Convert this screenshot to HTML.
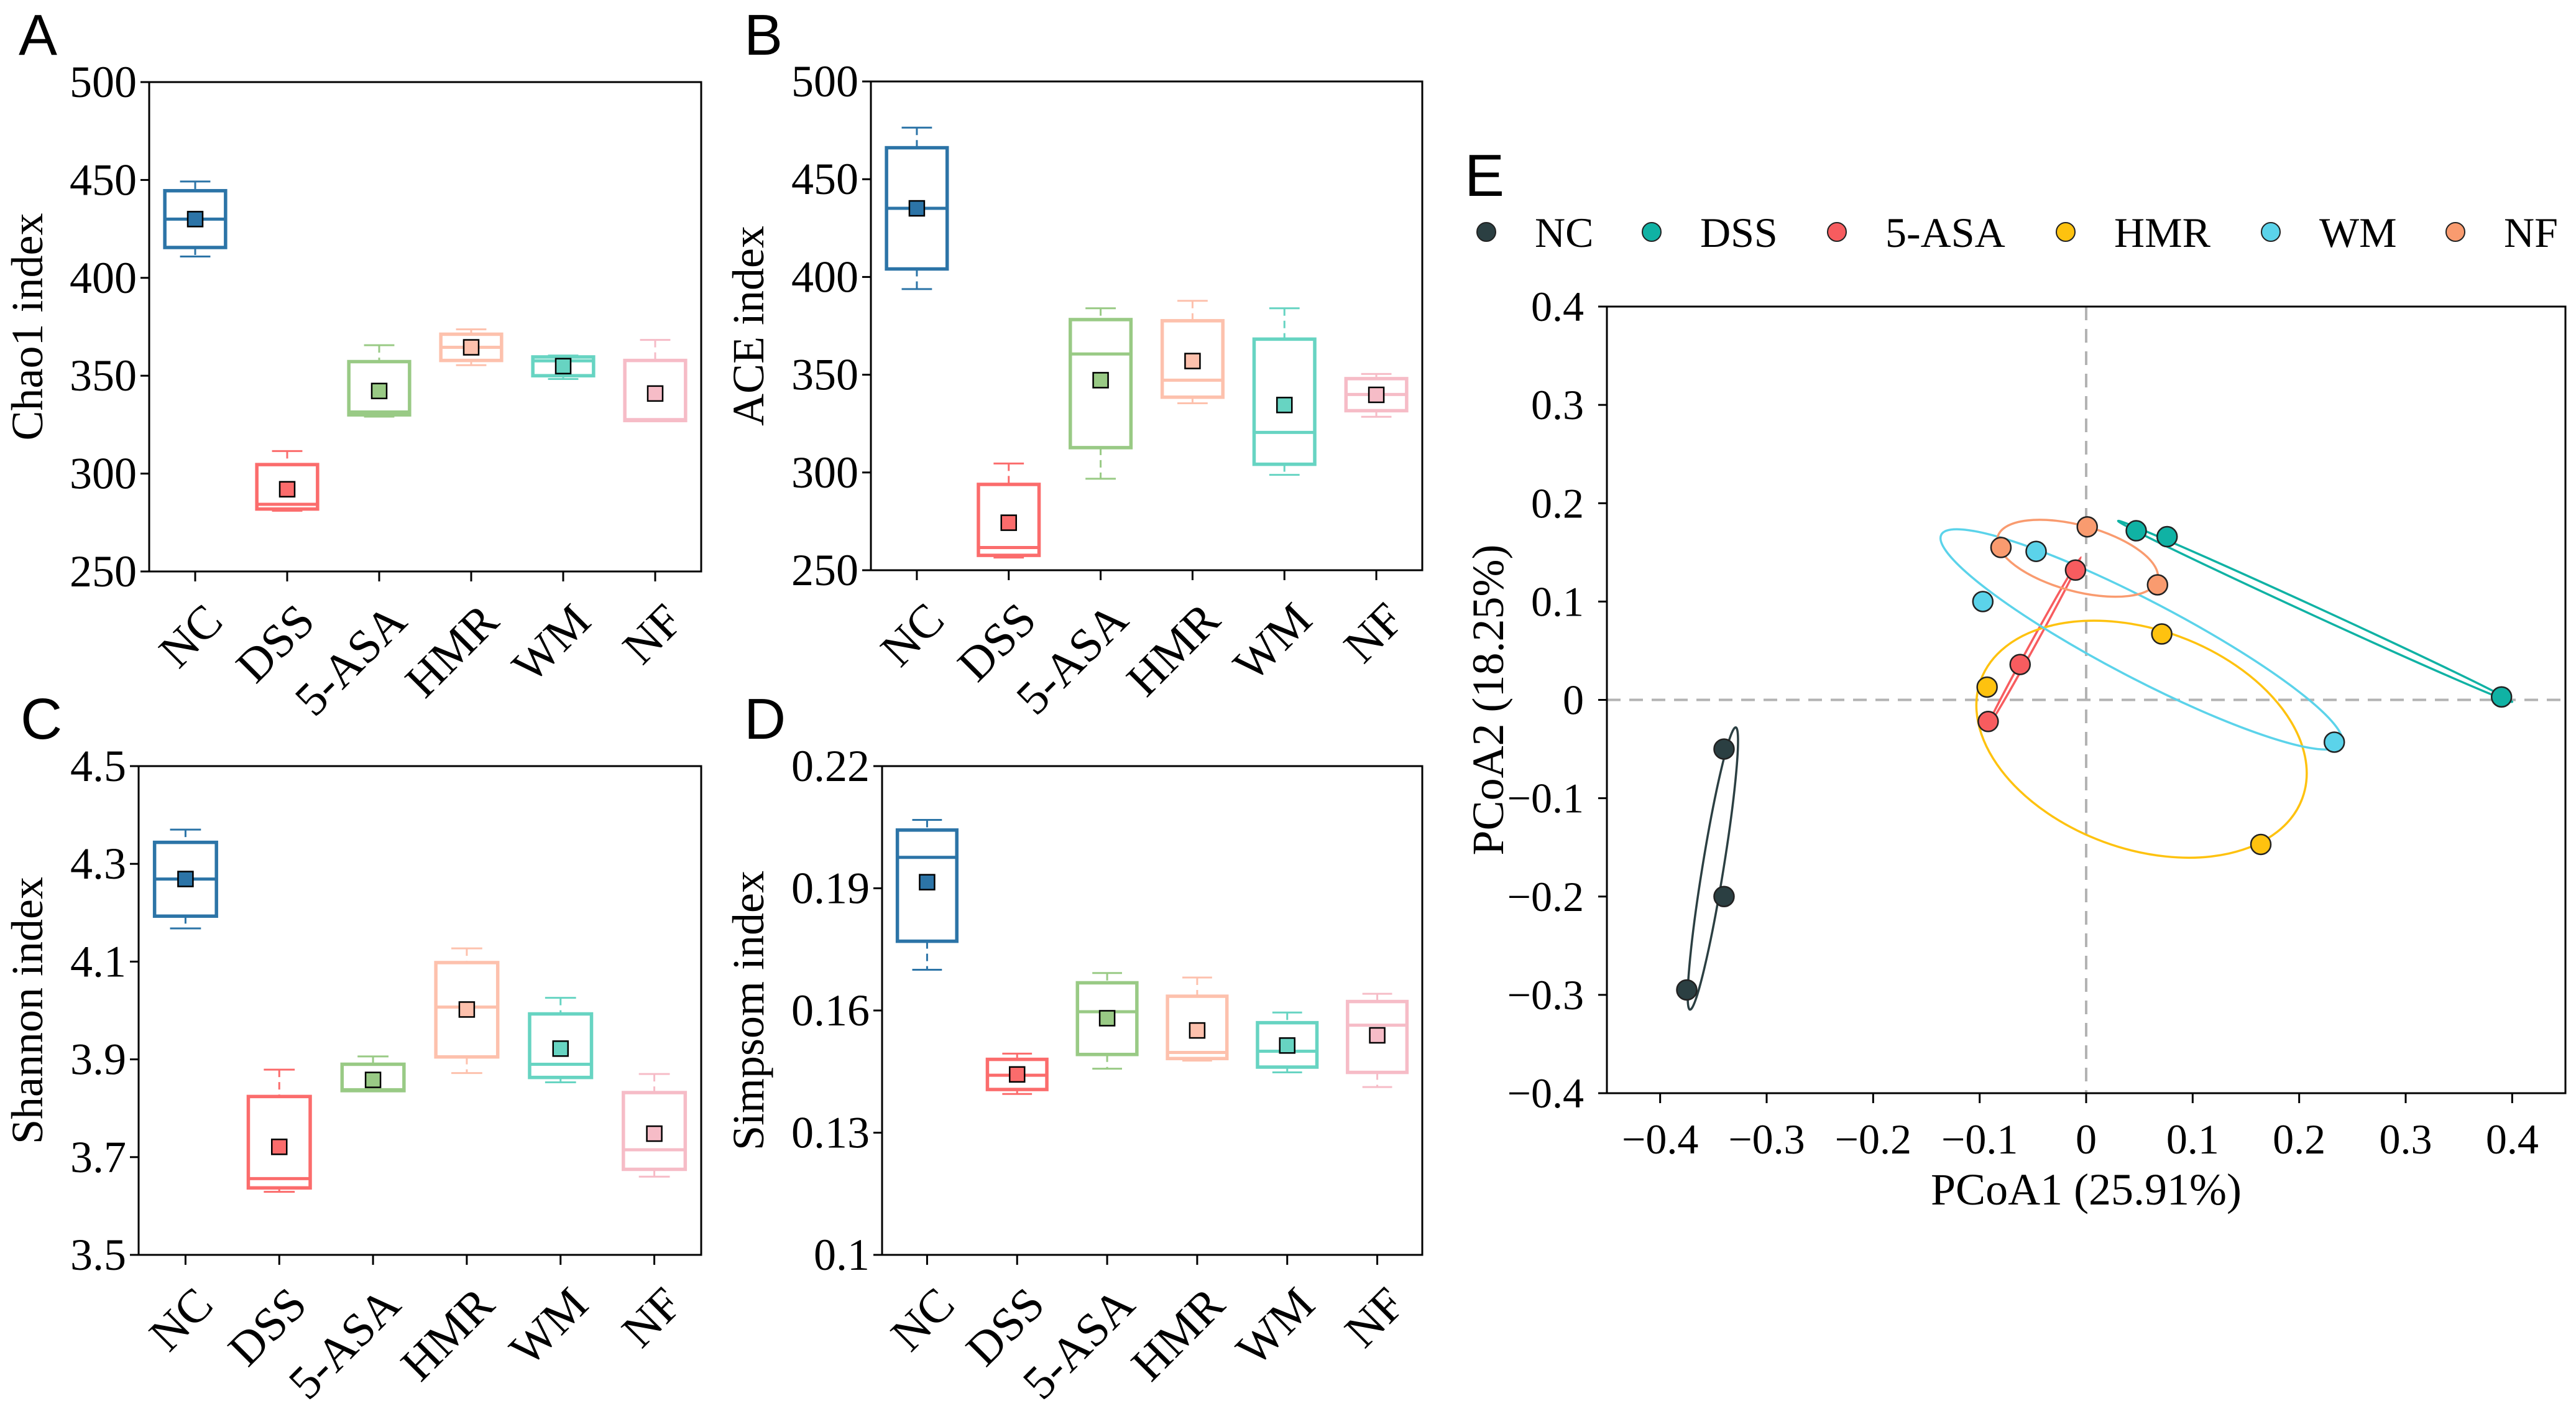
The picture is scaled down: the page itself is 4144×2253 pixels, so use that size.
<!DOCTYPE html>
<html><head><meta charset="utf-8">
<style>
html,body{margin:0;padding:0;background:#fff;}
svg{display:block;}
text{font-family:"Liberation Serif",serif;}
</style></head>
<body>
<svg id="fig" width="4144" height="2253" viewBox="0 0 4144 2253" xmlns="http://www.w3.org/2000/svg"></svg>
<script>
// ---------- Box plot data ----------
const groups = ["NC","DSS","5-ASA","HMR","WM","NF"];
const boxColors = ["#2c74a7","#fb6c6c","#99ca85","#fdc1ad","#67d4c2","#f6bcc7"];
// A: Chao1
const chaoMin = [410.9,281.0,329.1,355.4,348.3,327.1];
const chaoQ1  = [415.5,281.9,330.0,357.8,350.0,327.1];
const chaoMed = [430.0,284.3,331.5,364.5,357.6,327.6];
const chaoQ3  = [444.5,304.6,357.2,371.2,359.6,357.8];
const chaoMax = [449.2,311.5,365.6,373.7,360.3,368.3];
const chaoMean= [430.0,292.0,342.2,364.5,354.9,340.9];
const chaoTicks = [250,300,350,400,450,500];
// B: ACE
const aceMin = [393.8,256.5,296.8,335.4,298.8,328.5];
const aceQ1  = [404.1,257.6,312.7,338.5,304.2,331.6];
const aceMed = [435.1,261.6,360.6,347.2,320.5,339.9];
const aceQ3  = [466.1,293.9,378.2,377.6,368.2,348.0];
const aceMax = [476.4,304.6,384.0,387.8,384.0,350.4];
const aceMean= [435.1,274.3,347.2,357.0,334.5,339.7];
const aceTicks = [250,300,350,400,450,500];
// C: Shannon
const shMin = [4.168,3.629,3.836,3.872,3.853,3.660];
const shQ1  = [4.193,3.637,3.836,3.905,3.863,3.675];
const shMed = [4.269,3.656,3.838,4.007,3.890,3.715];
const shQ3  = [4.344,3.824,3.890,4.098,3.993,3.832];
const shMax = [4.370,3.879,3.906,4.127,4.026,3.870];
const shMean= [4.269,3.721,3.858,4.002,3.922,3.748];
const shTicks = [3.5,3.7,3.9,4.1,4.3,4.5];
const shTickLabels = ["3.5","3.7","3.9","4.1","4.3","4.5"];
// D: Simpson
const siMin = [0.1700,0.1395,0.1457,0.1477,0.1448,0.1412];
const siQ1  = [0.1770,0.1406,0.1492,0.1482,0.1461,0.1448];
const siMed = [0.1976,0.1441,0.1597,0.1497,0.1500,0.1564];
const siQ3  = [0.2043,0.1480,0.1668,0.1635,0.1570,0.1622];
const siMax = [0.2068,0.1494,0.1692,0.1681,0.1595,0.1641];
const siMean= [0.1915,0.1443,0.1581,0.1551,0.1514,0.1539];
const siTicks = [0.10,0.13,0.16,0.19,0.22];
const siTickLabels = ["0.1","0.13","0.16","0.19","0.22"];

// ---------- PCoA data ----------
const pcoaGroups = ["NC","DSS","5-ASA","HMR","WM","NF"];
const pcoaColors = ["#2b3f42","#10b2a4","#f75c5f","#fec20f","#5bd3ea","#f99b6f"];
const pcX = [[-0.340,-0.340,-0.375],[0.047,0.076,0.390],[-0.010,-0.062,-0.092],[-0.093,0.071,0.164],[-0.097,-0.047,0.233],[-0.080,0.001,0.067]];
const pcY = [[-0.050,-0.200,-0.295],[0.172,0.166,0.003],[0.132,0.036,-0.022],[0.013,0.067,-0.147],[0.100,0.151,-0.043],[0.155,0.176,0.117]];
// ellipse major-axis end points (data) and minor half-width (px)
const ellX1 = [-0.372,0.030,-0.094,-0.099,-0.136,-0.083];
const ellY1 = [-0.315,0.182,-0.030,0.020,0.168,0.166];
const ellX2 = [-0.329,0.400,-0.005,0.203,0.240,0.067];
const ellY2 = [-0.028,-0.002,0.145,-0.100,-0.045,0.122];
const ellMinor = [17,7,4,176,62,53];
const pcXTicks = [-0.4,-0.3,-0.2,-0.1,0,0.1,0.2,0.3,0.4];
const pcYTicks = [-0.4,-0.3,-0.2,-0.1,0,0.1,0.2,0.3,0.4];

const NS="http://www.w3.org/2000/svg";
const svg=document.getElementById('fig');
function mk(tag,attrs,parent){const e=document.createElementNS(NS,tag);for(const k in attrs)e.setAttribute(k,attrs[k]);(parent||svg).appendChild(e);return e;}
function fmt(v){if(Math.abs(v)<1e-9)return "0";const s=(Math.round(Math.abs(v)*10)/10).toString();return (v<0?"\u2212":"")+s;}

function boxPanel(cfg){
  const g=mk('g',{});
  
  
  const L=cfg.l,R=cfg.r,T=cfg.t,B=cfg.b;
  const y=v=>B-(v-cfg.ymin)/(cfg.ymax-cfg.ymin)*(B-T);
  const step=(R-L)/6;
  const x=i=>L+step*(i+0.5);
  const frame=mk('rect',{x:L,y:T,width:R-L,height:B-T,fill:'none',stroke:'#000','stroke-width':3},g);
  
  
  cfg.ticks.forEach((tv,k)=>{
    const ty=y(tv);
    const tk=mk('line',{x1:L-14,x2:L,y1:ty,y2:ty,stroke:'#000','stroke-width':3},g);
    
    
    const tl=mk('text',{x:L-20,y:ty+24,'text-anchor':'end','font-size':72},g);
    
    
    tl.textContent=cfg.tickLabels?cfg.tickLabels[k]:String(tv);
  });
  const yl=mk('text',{x:0,y:0,'text-anchor':'middle','font-size':72,transform:`translate(${cfg.ylx},${(T+B)/2}) rotate(-90)`},g);
  
  
  yl.textContent=cfg.ytitle;
  const lt=mk('text',{x:cfg.letX,y:cfg.letY,'font-size':93,style:'font-family:"Liberation Sans",sans-serif'},g);
  
  
  lt.textContent=cfg.letter;
  const bw=step*0.66;
  groups.forEach((gn,i)=>{
    const cx=x(i),c=boxColors[i];
    const tk=mk('line',{x1:cx,x2:cx,y1:B,y2:B+16,stroke:'#000','stroke-width':3},g);
    
    
    const ex=cx+48,ey=B+84;
    const xl=mk('text',{x:ex,y:ey,'text-anchor':'end','font-size':76,transform:`rotate(-45 ${ex} ${ey})`},g);
    
    
    xl.textContent=gn;
    const bg=mk('g',{},g);
    
    
    mk('line',{x1:cx,x2:cx,y1:y(cfg.max[i]),y2:y(cfg.q3[i]),stroke:c,'stroke-width':3,'stroke-dasharray':'12,8'},bg);
    mk('line',{x1:cx,x2:cx,y1:y(cfg.q1[i]),y2:y(cfg.min[i]),stroke:c,'stroke-width':3,'stroke-dasharray':'12,8'},bg);
    mk('line',{x1:cx-bw*0.25,x2:cx+bw*0.25,y1:y(cfg.max[i]),y2:y(cfg.max[i]),stroke:c,'stroke-width':3},bg);
    mk('line',{x1:cx-bw*0.25,x2:cx+bw*0.25,y1:y(cfg.min[i]),y2:y(cfg.min[i]),stroke:c,'stroke-width':3},bg);
    mk('rect',{x:cx-bw/2,y:y(cfg.q3[i]),width:bw,height:Math.max(1,y(cfg.q1[i])-y(cfg.q3[i])),fill:'#fff',stroke:c,'stroke-width':5.5},bg);
    mk('line',{x1:cx-bw/2,x2:cx+bw/2,y1:y(cfg.med[i]),y2:y(cfg.med[i]),stroke:c,'stroke-width':5},bg);
    const ms=mk('rect',{x:cx-12,y:y(cfg.mean[i])-12,width:24,height:24,fill:c,stroke:'#000','stroke-width':2.5},bg);
    
    
  });
}
boxPanel({name:'panel-a-chao1',l:240,r:1128,t:132,b:919,ymin:250,ymax:500,ticks:chaoTicks,ytitle:'Chao1 index',ylx:68,letter:'A',letX:30,letY:88,min:chaoMin,q1:chaoQ1,med:chaoMed,q3:chaoQ3,max:chaoMax,mean:chaoMean});
boxPanel({name:'panel-b-ace',l:1401,r:2288,t:131,b:917,ymin:250,ymax:500,ticks:aceTicks,ytitle:'ACE index',ylx:1228,letter:'B',letX:1197,letY:88,min:aceMin,q1:aceQ1,med:aceMed,q3:aceQ3,max:aceMax,mean:aceMean});
boxPanel({name:'panel-c-shannon',l:223,r:1128,t:1232,b:2018,ymin:3.5,ymax:4.5,ticks:shTicks,tickLabels:shTickLabels,ytitle:'Shannon index',ylx:68,letter:'C',letX:33,letY:1188,min:shMin,q1:shQ1,med:shMed,q3:shQ3,max:shMax,mean:shMean});
boxPanel({name:'panel-d-simpson',l:1419,r:2288,t:1232,b:2018,ymin:0.10,ymax:0.22,ticks:siTicks,tickLabels:siTickLabels,ytitle:'Simpsom index',ylx:1228,letter:'D',letX:1197,letY:1188,min:siMin,q1:siQ1,med:siMed,q3:siQ3,max:siMax,mean:siMean});

// ---------- PCoA panel ----------
(function(){
  const g=mk('g',{});
  
  
  const L=2585,R=4127,T=493,B=1758,xmin=-0.45,xmax=0.45,ymin=-0.4,ymax=0.4;
  const X=v=>L+(v-xmin)/(xmax-xmin)*(R-L);
  const Y=v=>B-(v-ymin)/(ymax-ymin)*(B-T);
  const lt=mk('text',{x:2356,y:315,'font-size':96,style:'font-family:"Liberation Sans",sans-serif'},g);
  
  
  lt.textContent='E';
  const legX=[2391,2657,2955,3323,3653,3950];
  pcoaGroups.forEach((gn,i)=>{
    const lg=mk('g',{},g);
    
    
    mk('circle',{cx:legX[i],cy:373,r:15,fill:pcoaColors[i],stroke:'#222','stroke-width':2},lg);
    const t=mk('text',{x:legX[i]+78,y:397,'font-size':68},lg);
    t.textContent=gn;
  });
  const zx=mk('line',{x1:L,x2:R,y1:Y(0),y2:Y(0),stroke:'#b3b3b3','stroke-width':4,'stroke-dasharray':'22,14'},g);
  
  
  const zy=mk('line',{x1:X(0),x2:X(0),y1:T,y2:B,stroke:'#b3b3b3','stroke-width':4,'stroke-dasharray':'22,14'},g);
  
  
  pcoaGroups.forEach((gn,i)=>{
    const x1=X(ellX1[i]),y1=Y(ellY1[i]),x2=X(ellX2[i]),y2=Y(ellY2[i]);
    const cx=(x1+x2)/2,cy=(y1+y2)/2,a=Math.hypot(x2-x1,y2-y1)/2,ang=Math.atan2(y2-y1,x2-x1)*180/Math.PI;
    const e=mk('ellipse',{cx:cx,cy:cy,rx:a,ry:ellMinor[i],fill:'none',stroke:pcoaColors[i],'stroke-width':3.5,transform:`rotate(${ang} ${cx} ${cy})`},g);
    
    
  });
  pcoaGroups.forEach((gn,i)=>{
    pcX[i].forEach((vx,j)=>{
      const p=mk('circle',{cx:X(vx),cy:Y(pcY[i][j]),r:16,fill:pcoaColors[i],stroke:'#222','stroke-width':2.5},g);
      
      
    });
  });
  const frame=mk('rect',{x:L,y:T,width:R-L,height:B-T,fill:'none',stroke:'#000','stroke-width':3},g);
  
  
  pcXTicks.forEach(v=>{
    const tk=mk('line',{x1:X(v),x2:X(v),y1:B,y2:B+16,stroke:'#000','stroke-width':3},g);
    
    
    const t=mk('text',{x:X(v),y:1855,'text-anchor':'middle','font-size':68},g);
    
    
    t.textContent=fmt(v);
  });
  pcYTicks.forEach(v=>{
    const tk=mk('line',{x1:L-14,x2:L,y1:Y(v),y2:Y(v),stroke:'#000','stroke-width':3},g);
    
    
    const t=mk('text',{x:2548,y:Y(v)+23,'text-anchor':'end','font-size':68},g);
    
    
    t.textContent=fmt(v);
  });
  const xt=mk('text',{x:(L+R)/2,y:1937,'text-anchor':'middle','font-size':72},g);
  
  
  xt.textContent='PCoA1 (25.91%)';
  const yt=mk('text',{x:0,y:0,'text-anchor':'middle','font-size':72,transform:`translate(2418,${(T+B)/2}) rotate(-90)`},g);
  
  
  yt.textContent='PCoA2 (18.25%)';
})();
</script>
</body></html>
